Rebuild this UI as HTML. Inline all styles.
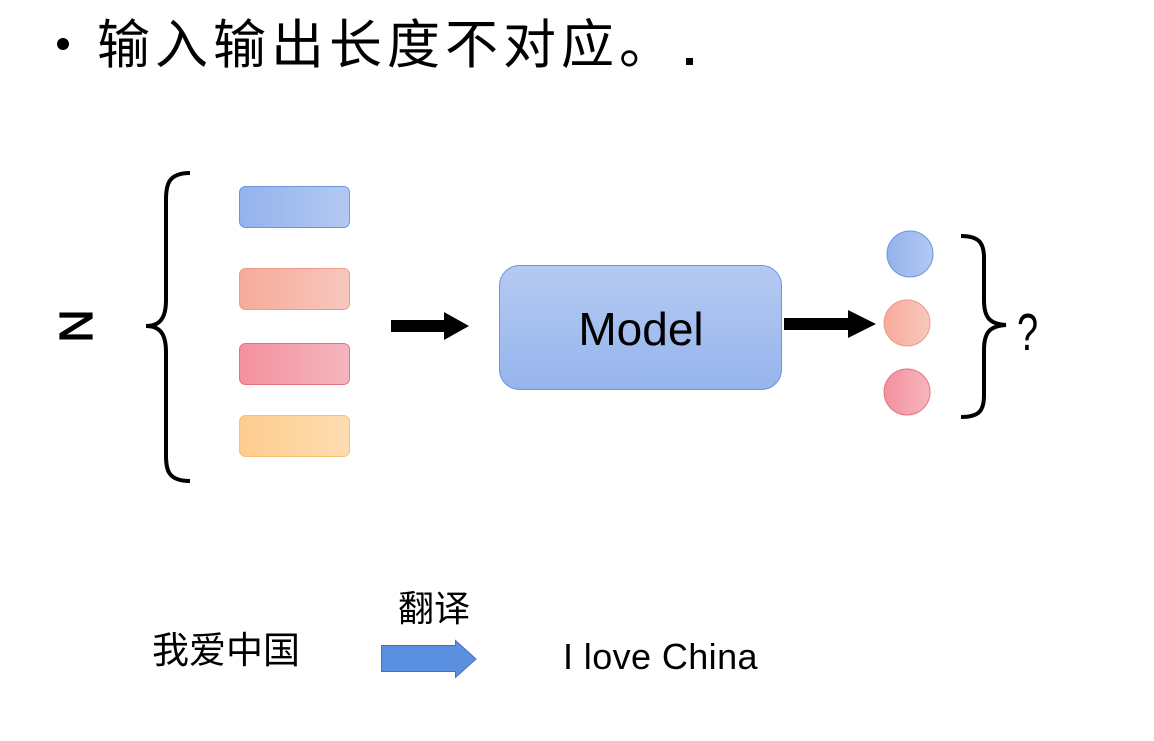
<!DOCTYPE html>
<html><head><meta charset="utf-8"><style>
html,body{margin:0;padding:0;background:#fff;width:1154px;height:741px;overflow:hidden}
text{font-family:"Liberation Sans","Noto Sans CJK SC",sans-serif}
</style></head><body>
<svg width="1154" height="741" viewBox="0 0 1154 741" xmlns="http://www.w3.org/2000/svg">
<defs>
<linearGradient id="gb" x1="0" x2="1"><stop offset="0" stop-color="#93b2ec"/><stop offset="1" stop-color="#b3c9f2"/></linearGradient>
<linearGradient id="go" x1="0" x2="1"><stop offset="0" stop-color="#f7aa9a"/><stop offset="1" stop-color="#f7c8bd"/></linearGradient>
<linearGradient id="gr" x1="0" x2="1"><stop offset="0" stop-color="#f4909e"/><stop offset="1" stop-color="#f5b6bf"/></linearGradient>
<linearGradient id="gy" x1="0" x2="1"><stop offset="0" stop-color="#fecd8e"/><stop offset="1" stop-color="#fedcb2"/></linearGradient>
<linearGradient id="gm" x1="0" y1="0" x2="0" y2="1"><stop offset="0" stop-color="#b4caf2"/><stop offset="1" stop-color="#96b4ec"/></linearGradient>
</defs>
<circle cx="63" cy="44" r="6" fill="#000"/>
<text x="97" y="63" font-size="53" letter-spacing="5" fill="#000">输入输出长度不对应。</text>
<rect x="686" y="58" width="7" height="7" fill="#000"/>

<text x="0" y="0" font-size="46" fill="#000" stroke="#000" stroke-width="1.2" transform="translate(76,326) rotate(90)" text-anchor="middle" dominant-baseline="central">N</text>
<path d="M190,173 C168,173 166,185 166,200 L166,300 C166,318 160,326 146,326 C160,326 166,334 166,352 L166,455 C166,470 168,481 190,481" fill="none" stroke="#000" stroke-width="4"/>

<rect x="239.5" y="186.5" width="110" height="41" rx="6" fill="url(#gb)" stroke="#6c94e0"/>
<rect x="239.5" y="268.5" width="110" height="41" rx="6" fill="url(#go)" stroke="#f0998a"/>
<rect x="239.5" y="343.5" width="110" height="41" rx="6" fill="url(#gr)" stroke="#e4707f"/>
<rect x="239.5" y="415.5" width="110" height="41" rx="6" fill="url(#gy)" stroke="#fbbf70"/>

<rect x="391" y="320" width="54" height="12" fill="#000"/>
<polygon points="444,312 469,326 444,340" fill="#000"/>

<rect x="499.5" y="265.5" width="282" height="124" rx="20" fill="url(#gm)" stroke="#6c94e0"/>
<text x="641" y="345" font-size="46" text-anchor="middle" fill="#000">Model</text>

<rect x="784" y="318" width="66" height="12" fill="#000"/>
<polygon points="848,310 876,324 848,338" fill="#000"/>

<circle cx="910" cy="254" r="23" fill="url(#gb)" stroke="#6c94e0"/>
<circle cx="907" cy="323" r="23" fill="url(#go)" stroke="#f0998a"/>
<circle cx="907" cy="392" r="23" fill="url(#gr)" stroke="#e4707f"/>
<path d="M961,236 C980,236 984,244 984,258 L984,300 C984,318 990,324 1006,325 C990,326 984,332 984,350 L984,395 C984,410 980,417 961,417" fill="none" stroke="#000" stroke-width="4"/>
<text x="0" y="0" font-size="40" fill="#000" transform="translate(1017,350) scale(0.95,1.3)">?</text>

<text x="152" y="663" font-size="37" fill="#000">我爱中国</text>
<text x="398" y="621" font-size="36" fill="#000">翻译</text>
<polygon points="381.5,645.5 455.5,645.5 455.5,640.5 476,659 455.5,677.5 455.5,671.5 381.5,671.5" fill="#5b8fe0" stroke="#4572bf"/>
<text x="563" y="669" font-size="36" letter-spacing="0.4" fill="#000">I love China</text>
</svg>
</body></html>
